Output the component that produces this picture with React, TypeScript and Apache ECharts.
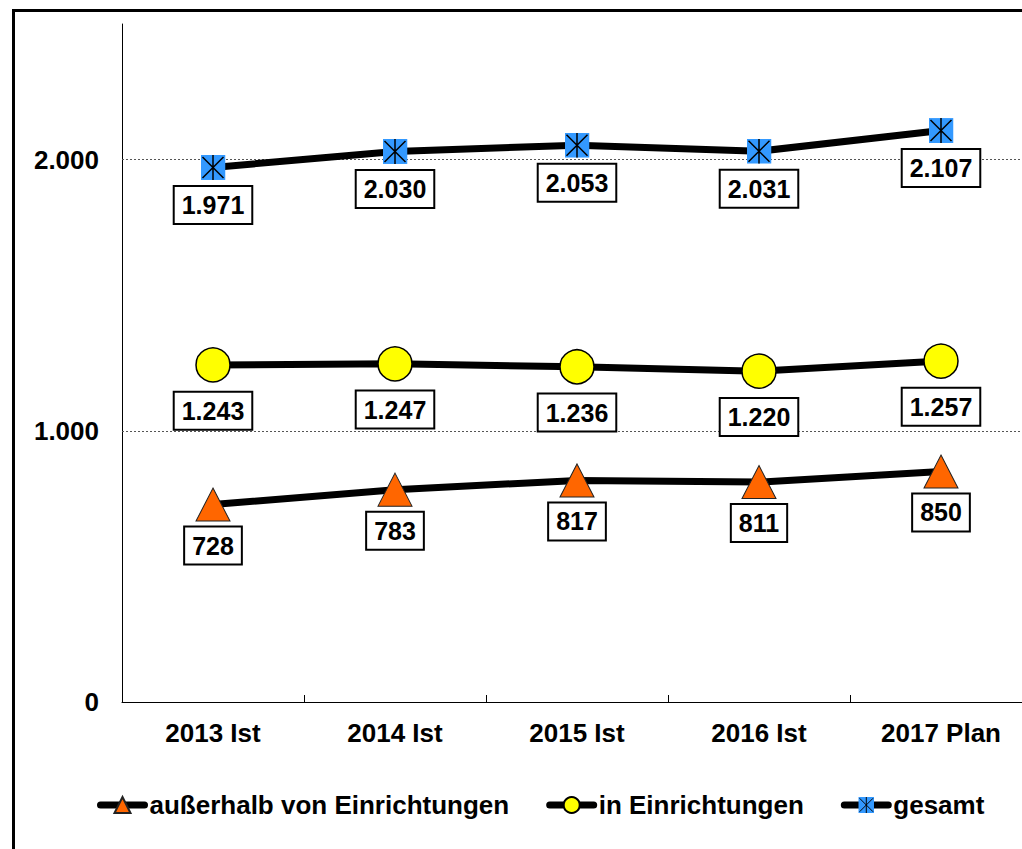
import React, { useEffect, useRef } from "react";
import * as echarts from "echarts";

const categories = ["2013 Ist", "2014 Ist", "2015 Ist", "2016 Ist", "2017 Plan"];
const ausserhalb = [728, 783, 817, 811, 850];
const inEinrichtungen = [1243, 1247, 1236, 1220, 1257];
const gesamt = [1971, 2030, 2053, 2031, 2107];
const gridValues = [1000, 2000];
const seriesNames = ["außerhalb von Einrichtungen", "in Einrichtungen", "gesamt"];

const FONT = "'Liberation Sans', Arial, sans-serif";

const fmt = (v: number) => String(v).replace(/\B(?=(\d{3})+(?!\d))/g, ".");

const gesamtSvg =
  "<svg xmlns='http://www.w3.org/2000/svg' width='50' height='50' viewBox='0 0 25 25'>" +
  "<rect width='25' height='25' fill='#3399FF'/>" +
  "<path d='M2 2L23 23M23 2L2 23M12.5 0V25' stroke='#000' stroke-width='1.5' fill='none'/>" +
  "</svg>";
const gesamtSymbol = "image://data:image/svg+xml;charset=utf-8," + encodeURIComponent(gesamtSvg);

const labelStyle = (distance: number) => ({
  show: true,
  position: "bottom" as const,
  distance,
  formatter: (p: any) => fmt(p.value),
  fontFamily: FONT,
  fontWeight: "bold" as const,
  fontSize: 25,
  lineHeight: 26,
  color: "#000",
  backgroundColor: "#fff",
  borderColor: "#000",
  borderWidth: 2,
  padding: [5, 7, 5, 7],
});

export default function App() {
  const ref = useRef<HTMLDivElement>(null);
  useEffect(() => {
    if (!ref.current) return;
    const chart = echarts.init(ref.current, null, { renderer: "svg" });
    chart.setOption({
      animation: false,
      backgroundColor: "#fff",
      textStyle: { fontFamily: FONT },
      graphic: [
        {
          type: "rect",
          shape: { x: 13.5, y: 10.5, width: 1100, height: 1000 },
          style: { fill: "none", stroke: "#000", lineWidth: 3 },
          silent: true,
          z: 100,
        },
      ],
      grid: {
        left: 122,
        top: 24,
        width: 910,
        bottom: 147,
        containLabel: false,
        outerBoundsMode: "none",
      },
      legend: {
        left: 97,
        top: 792,
        padding: 0,
        itemWidth: 44,
        itemHeight: 20,
        itemGap: 37,
        data: seriesNames,
        lineStyle: { width: 7, cap: "round" },
        textStyle: { fontFamily: FONT, fontWeight: "bold", fontSize: 26, color: "#000" },
      },
      xAxis: {
        type: "category",
        data: categories,
        boundaryGap: true,
        axisLine: { show: true, lineStyle: { color: "#000", width: 1 } },
        axisTick: { show: true, inside: true, length: 7, lineStyle: { color: "#000" } },
        axisLabel: {
          margin: 18,
          fontFamily: FONT,
          fontWeight: "bold",
          fontSize: 26,
          color: "#000",
        },
        splitLine: { show: false },
      },
      yAxis: {
        type: "value",
        min: 0,
        max: 2500,
        interval: 1000,
        axisLine: { show: true, lineStyle: { color: "#000", width: 1 } },
        axisTick: { show: false },
        splitLine: { show: false },
        axisLabel: {
          margin: 23,
          fontFamily: FONT,
          fontWeight: "bold",
          fontSize: 26,
          color: "#000",
          showMaxLabel: false,
          formatter: (v: number) => (v % 1000 === 0 ? fmt(v) : ""),
        },
      },
      series: [
        {
          name: seriesNames[0],
          type: "line",
          data: ausserhalb,
          symbol: "triangle",
          symbolSize: [34, 33],
          lineStyle: { color: "#000", width: 7, cap: "round" },
          itemStyle: { color: "#FF6600", borderColor: "#222", borderWidth: 1 },
          label: labelStyle(6),
          z: 3,
          markLine: {
            silent: true,
            symbol: "none",
            label: { show: false },
            lineStyle: { color: "#555", width: 1, type: [2, 2] },
            data: gridValues.map((v) => ({ yAxis: v })),
            z: 1,
          },
        },
        {
          name: seriesNames[1],
          type: "line",
          data: inEinrichtungen,
          symbol: "circle",
          symbolSize: 34,
          lineStyle: { color: "#000", width: 7, cap: "round" },
          itemStyle: { color: "#FFFF00", borderColor: "#000", borderWidth: 1.5 },
          label: labelStyle(10),
          z: 3,
        },
        {
          name: seriesNames[2],
          type: "line",
          data: gesamt,
          symbol: gesamtSymbol,
          symbolSize: 25,
          lineStyle: { color: "#000", width: 7, cap: "round" },
          itemStyle: { color: "#3399FF" },
          label: labelStyle(7),
          z: 3,
        },
      ],
    });
    return () => chart.dispose();
  }, []);
  return (
    <div
      ref={ref}
      style={{ position: "fixed", left: 0, top: 0, width: 1022, height: 849 }}
    />
  );
}
